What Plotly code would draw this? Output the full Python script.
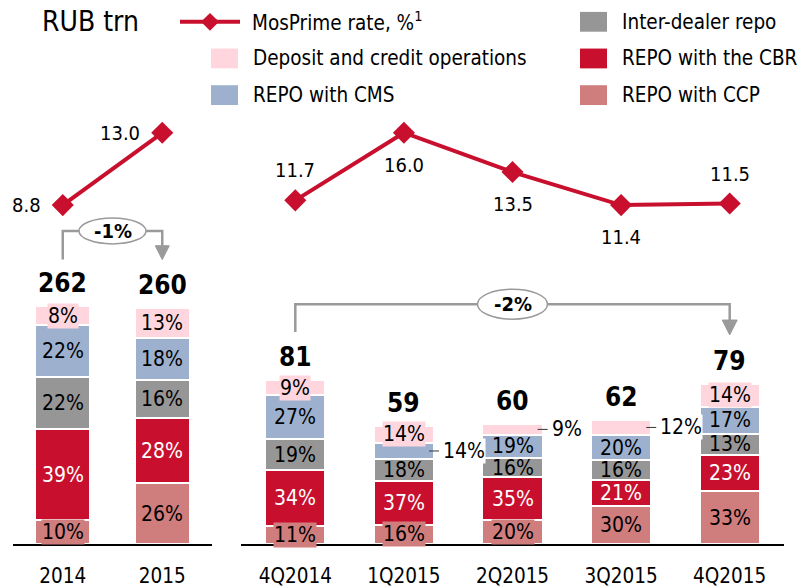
import plotly.graph_objects as go

# ---------------- data ----------------
years = ["2014", "2015"]
quarters = ["4Q2014", "1Q2015", "2Q2015", "3Q2015", "4Q2015"]

series = ["REPO with CCP", "REPO with the CBR", "Inter-dealer repo",
          "REPO with CMS", "Deposit and credit operations"]

annual_totals = [262, 260]
quarter_totals = [81, 59, 60, 62, 79]

# shares, % of total (bottom -> top)
annual_ccp = [10, 26]
annual_cbr = [39, 28]
annual_idr = [22, 16]
annual_cms = [22, 18]
annual_dep = [8, 13]

quarter_ccp = [11, 16, 20, 30, 33]
quarter_cbr = [34, 37, 35, 21, 23]
quarter_idr = [19, 18, 16, 16, 13]
quarter_cms = [27, 14, 19, 20, 17]
quarter_dep = [9, 14, 9, 12, 14]

mosprime_annual = [8.8, 13.0]
mosprime_quarter = [11.7, 16.0, 13.5, 11.4, 11.5]

annual_change = "-1%"
quarter_change = "-2%"

# ---------------- style ----------------
W, H = 804, 588
PB = 549  # plot bottom in px (axis line)
FONT = "DejaVu Sans Condensed, DejaVu Sans, sans-serif"
COLORS = {
    "REPO with CCP": "#D07D7D",
    "REPO with the CBR": "#C8102E",
    "Inter-dealer repo": "#969696",
    "REPO with CMS": "#9DB1CF",
    "Deposit and credit operations": "#FFD6DE",
}
TEXT_COLORS = {s: "black" for s in series}
TEXT_COLORS["REPO with the CBR"] = "white"
LABEL_BG = {"REPO with CCP", "Deposit and credit operations"}
LINE_RED = "#C8102E"
BRACKET = "#9A9A9A"
BAR_W = 0.555
PCT_SIZE = 21

OUTSIDE = {("1Q2015", "REPO with CMS"),
           ("2Q2015", "Deposit and credit operations"),
           ("3Q2015", "Deposit and credit operations")}
Q_LABEL_POS = ["above", "below", "below", "below", "above"]


def px_x(px):
    return px / W


def px_y(py):
    return (PB - py) / PB


fig = go.Figure()
annotations = []
shapes = []

panels = [
    (years, annual_totals, [annual_ccp, annual_cbr, annual_idr, annual_cms, annual_dep], "x", "y"),
    (quarters, quarter_totals, [quarter_ccp, quarter_cbr, quarter_idr, quarter_cms, quarter_dep], "x2", "y2"),
]

for cats, totals, shares, xa, ya in panels:
    idx = list(range(len(cats)))
    base = [0.0] * len(cats)
    for name, sh in zip(series, shares):
        vals = [s * t / 100.0 for s, t in zip(sh, totals)]
        fig.add_trace(go.Bar(
            x=idx, y=vals, width=BAR_W, name=name,
            marker=dict(color=COLORS[name], line=dict(color="white", width=2)),
            xaxis=xa, yaxis=ya, showlegend=False, hoverinfo="skip"))
        for i, (c, s, v) in enumerate(zip(cats, sh, vals)):
            mid = base[i] + v / 2
            if (c, name) in OUTSIDE:
                annotations.append(dict(
                    x=i + BAR_W / 2, y=mid, xref=xa, yref=ya, text=f"{s}%",
                    showarrow=False, xanchor="left", yanchor="middle", xshift=8,
                    bgcolor="white", borderpad=0,
                    font=dict(size=PCT_SIZE, color="black", family=FONT)))
                shapes.append(dict(
                    type="line", xref=xa, yref=ya, xsizemode="pixel",
                    xanchor=i + BAR_W / 2, x0=-5, x1=5, y0=mid, y1=mid,
                    line=dict(color="#333333", width=1)))
            else:
                ann = dict(
                    x=i, y=mid, xref=xa, yref=ya, text=f"{s}%",
                    showarrow=False, xanchor="center", yanchor="middle",
                    font=dict(size=PCT_SIZE, color=TEXT_COLORS[name], family=FONT))
                if name in LABEL_BG:
                    ann.update(bgcolor=COLORS[name], borderpad=0)
                annotations.append(ann)
            base[i] += v
    for i, t in enumerate(totals):
        annotations.append(dict(
            x=i, y=base[i], xref=xa, yref=ya, text=f"<b>{t}</b>",
            showarrow=False, xanchor="center", yanchor="middle", yshift=23,
            font=dict(size=26, color="black", family=FONT)))

# MosPrime lines
fig.add_trace(go.Scatter(
    x=list(range(len(years))), y=mosprime_annual, mode="lines+markers",
    line=dict(color=LINE_RED, width=4),
    marker=dict(symbol="diamond", size=17, color=LINE_RED),
    xaxis="x", yaxis="y3", showlegend=False, hoverinfo="skip"))
fig.add_trace(go.Scatter(
    x=list(range(len(quarters))), y=mosprime_quarter, mode="lines+markers",
    line=dict(color=LINE_RED, width=4),
    marker=dict(symbol="diamond", size=17, color=LINE_RED),
    xaxis="x2", yaxis="y4", showlegend=False, hoverinfo="skip"))

for i, v in enumerate(mosprime_annual):
    annotations.append(dict(
        x=i, y=v, xref="x", yref="y3", text=f"{v:.1f}", showarrow=False,
        xanchor="right", yanchor="middle", xshift=-20,
        font=dict(size=20, color="black", family=FONT)))
for i, (v, pos) in enumerate(zip(mosprime_quarter, Q_LABEL_POS)):
    annotations.append(dict(
        x=i, y=v, xref="x2", yref="y4", text=f"{v:.1f}", showarrow=False,
        xanchor="center", yanchor="middle", yshift=30 if pos == "above" else -32,
        font=dict(size=20, color="black", family=FONT)))


# change brackets
def bracket(xa, x_from, x_to, y_line, y_left_bottom, arrow_top, arrow_tip, half_w, ell_w, ell_h, text):
    shapes.append(dict(
        type="path", xref=xa, yref="paper",
        path=(f"M {x_from},{px_y(y_left_bottom)} L {x_from},{px_y(y_line)} "
              f"L {x_to},{px_y(y_line)} L {x_to},{px_y(arrow_top)}"),
        line=dict(color=BRACKET, width=2.5)))
    shapes.append(dict(
        type="path", xref=xa, yref="paper", xsizemode="pixel", xanchor=x_to,
        path=f"M {-half_w},{px_y(arrow_top)} L {half_w},{px_y(arrow_top)} L 0,{px_y(arrow_tip)} Z",
        fillcolor=BRACKET, line=dict(color=BRACKET, width=1)))
    shapes.append(dict(
        type="circle", xref=xa, yref="paper", xsizemode="pixel", ysizemode="pixel",
        xanchor=(x_from + x_to) / 2, yanchor=px_y(y_line),
        x0=-ell_w / 2, x1=ell_w / 2, y0=-ell_h / 2, y1=ell_h / 2,
        fillcolor="white", line=dict(color=BRACKET, width=1.5)))
    annotations.append(dict(
        x=(x_from + x_to) / 2, y=px_y(y_line), xref=xa, yref="paper",
        text=f"<b>{text}</b>", showarrow=False, xanchor="center", yanchor="middle",
        font=dict(size=20, color="black", family=FONT)))


bracket("x", 0, len(years) - 1, 233, 262, 248, 262, 7, 67, 26, annual_change)
bracket("x2", 0, len(quarters) - 1, 307, 335, 323, 338, 7.5, 70, 30, quarter_change)

# legend (manual)
annotations.append(dict(x=px_x(40), y=px_y(22), xref="paper", yref="paper", text="RUB trn",
                        showarrow=False, xanchor="left", yanchor="middle",
                        font=dict(size=28, color="black", family=FONT)))
shapes.append(dict(type="line", xref="paper", yref="paper", x0=px_x(180), x1=px_x(240),
                   y0=px_y(22), y1=px_y(22), line=dict(color=LINE_RED, width=4)))
shapes.append(dict(type="path", xref="paper", yref="paper",
                   path=(f"M {px_x(201)},{px_y(22)} L {px_x(210)},{px_y(13)} "
                         f"L {px_x(219)},{px_y(22)} L {px_x(210)},{px_y(31)} Z"),
                   fillcolor=LINE_RED, line=dict(color=LINE_RED, width=0)))
annotations.append(dict(x=px_x(250), y=px_y(22), xref="paper", yref="paper",
                        text="MosPrime rate, %<sup>1</sup>", showarrow=False,
                        xanchor="left", yanchor="middle",
                        font=dict(size=20.5, color="black", family=FONT)))
legend_items = [
    ("Deposit and credit operations", 211, 59),
    ("REPO with CMS", 211, 96),
    ("Inter-dealer repo", 580, 22),
    ("REPO with the CBR", 580, 59),
    ("REPO with CCP", 580, 96),
]
for name, lx, ly in legend_items:
    shapes.append(dict(type="rect", xref="paper", yref="paper",
                       x0=px_x(lx), x1=px_x(lx + 27), y0=px_y(ly + 10), y1=px_y(ly - 10),
                       fillcolor=COLORS[name], line=dict(width=0)))
    annotations.append(dict(x=px_x(lx + 40), y=px_y(ly), xref="paper", yref="paper",
                            text=name, showarrow=False, xanchor="left", yanchor="middle",
                            font=dict(size=20.5, color="black", family=FONT)))

xcommon = dict(showline=True, linecolor="black", linewidth=2, ticks="outside",
               ticklen=12, tickcolor="rgba(0,0,0,0)", showgrid=False, zeroline=False,
               tickfont=dict(size=20.5, color="black", family=FONT), fixedrange=True,
               tickmode="array")
ycommon = dict(visible=False, showgrid=False, zeroline=False, fixedrange=True)

fig.update_layout(
    width=W, height=H, autosize=False,
    margin=dict(l=0, r=0, t=0, b=H - PB),
    paper_bgcolor="white", plot_bgcolor="white",
    barmode="stack", bargap=0,
    font=dict(family=FONT, color="black"),
    xaxis=dict(domain=[px_x(13), px_x(212)], range=[-0.5, len(years) - 0.5],
               tickvals=list(range(len(years))), ticktext=years, anchor="y", **xcommon),
    xaxis2=dict(domain=[px_x(241), px_x(784)], range=[-0.5, len(quarters) - 0.5],
                tickvals=list(range(len(quarters))), ticktext=quarters, anchor="y2", **xcommon),
    yaxis=dict(anchor="x", range=[0, PB / 0.907], **ycommon),
    yaxis2=dict(anchor="x2", range=[0, PB / 2.04], **ycommon),
    yaxis3=dict(anchor="x", overlaying="y", range=[-10.88, 20.71], **ycommon),
    yaxis4=dict(anchor="x2", overlaying="y2", range=[-10.15, 24.44], **ycommon),
    shapes=shapes,
    annotations=annotations,
    showlegend=False,
)

fig.write_html("out.html", config={"displayModeBar": False},
               post_script="document.body.style.margin='0';document.body.style.overflow='hidden';")
